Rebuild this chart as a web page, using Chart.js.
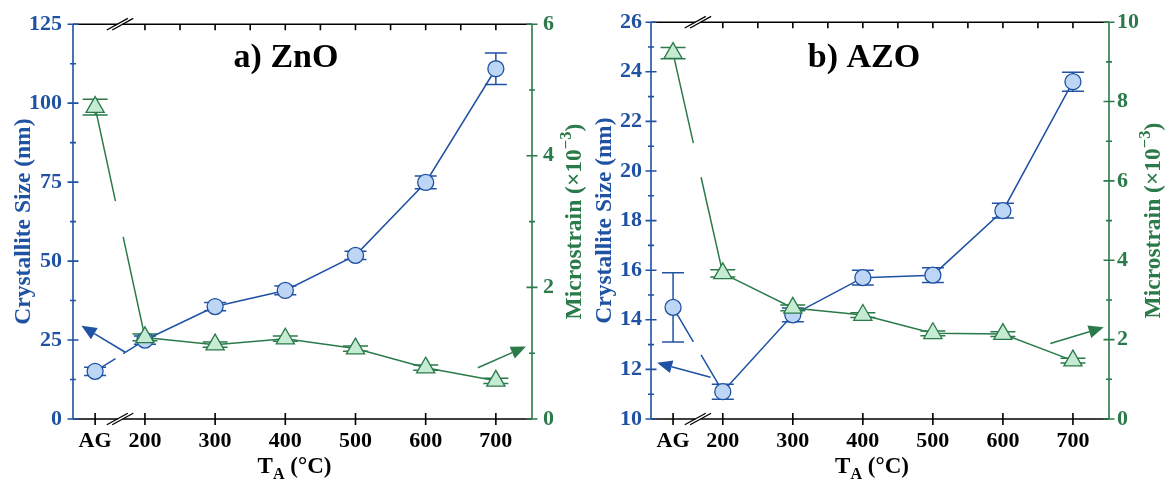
<!DOCTYPE html>
<html>
<head>
<meta charset="utf-8">
<script src="https://cdn.jsdelivr.net/npm/chart.js@4/dist/chart.umd.min.js"></script>
<style>
  html, body { margin: 0; padding: 0; background: #fff; }
  #wrap { position: relative; width: 1173px; height: 479px; overflow: hidden; }
  .pane { position: absolute; top: 0; height: 479px; }
  #paneA { left: 0; width: 588px; }
  #paneB { left: 588px; width: 585px; }
</style>
</head>
<body>
<div id="wrap">
  <div class="pane" id="paneA"><canvas id="chartA"></canvas></div>
  <div class="pane" id="paneB"><canvas id="chartB"></canvas></div>
</div>
<script>
// Annealing temperatures (AG = as-grown) on a broken temperature axis
const categories = ['AG', '200', '300', '400', '500', '600', '700'];
const AG_POS = 129;                 // where the as-grown sample sits left of the break
const xPositions = categories.map(c => c === 'AG' ? AG_POS : Number(c));
const topTickValues = [200, 250, 300, 350, 400, 450, 500, 550, 600, 650, 700];

// a) ZnO
const znoSize      = [15.1, 25.0, 35.6, 40.7, 51.8, 74.9, 110.9];
const znoSizeErr   = [1.3, 1.3, 1.3, 1.4, 1.3, 2.0, 5.0];
const znoStrain    = [4.74, 1.24, 1.13, 1.22, 1.07, 0.78, 0.58];
const znoStrainErr = [0.12, 0.05, 0.04, 0.04, 0.04, 0.04, 0.04];

// b) AZO
const azoSize      = [14.5, 11.1, 14.2, 15.7, 15.8, 18.4, 23.6];
const azoSizeErr   = [1.4, 0.3, 0.28, 0.3, 0.3, 0.3, 0.38];
const azoStrain    = [9.22, 3.67, 2.80, 2.62, 2.16, 2.14, 1.47];
const azoStrainErr = [0.14, 0.09, 0.07, 0.06, 0.06, 0.06, 0.06];

const X_MIN = 97.5, X_MAX = 751.5;
const BREAK_LO = 158, BREAK_HI = 169, BREAK_MARK = 164.5;

const FONT = "'Liberation Serif', 'Times New Roman', Times, serif";
const BLUE = '#1f52a3';
const BLUE_FILL = '#bdd6f5';
const GREEN = '#2a7a4a';
const GREEN_FILL = '#c5ebd2';
const BLACK = '#000';

// line segment crossing the axis break is interrupted there
function gapDash(ctx) {
  const xs = ctx.chart.scales.x;
  const a = xs.getPixelForValue(BREAK_LO), b = xs.getPixelForValue(BREAK_HI);
  const p0 = ctx.p0, p1 = ctx.p1;
  if (!(p0.x < a && p1.x > b)) return undefined;
  const dx = p1.x - p0.x, dy = p1.y - p0.y, L = Math.hypot(dx, dy);
  const t0 = (a - p0.x) / dx, t1 = (b - p0.x) / dx;
  return [t0 * L, (t1 - t0) * L, L + 20];
}

function pts(vals) { return vals.map((v, i) => ({ x: xPositions[i], y: v })); }

function drawRich(c, parts, x, y, size, align) {
  let total = 0;
  parts.forEach(p => {
    c.font = `bold ${size * (p.s || 1)}px ${FONT}`;
    p.w = c.measureText(p.t).width;
    total += p.w;
  });
  let cx = align === 'center' ? x - total / 2 : x;
  c.textAlign = 'left';
  c.textBaseline = 'alphabetic';
  parts.forEach(p => {
    c.font = `bold ${size * (p.s || 1)}px ${FONT}`;
    c.fillText(p.t, cx, y + (p.dy || 0) * size);
    cx += p.w;
  });
}

const errorBars = {
  id: 'errorBars',
  beforeDatasetsDraw(chart) {
    const c = chart.ctx;
    chart.data.datasets.forEach((ds, di) => {
      const meta = chart.getDatasetMeta(di);
      const ys = chart.scales[ds.yAxisID];
      c.save();
      c.strokeStyle = ds.borderColor;
      c.lineWidth = 1.5;
      ds.errors.forEach((e, i) => {
        const pt = meta.data[i];
        const v = ds.data[i].y;
        const yt = ys.getPixelForValue(v + e), yb = ys.getPixelForValue(v - e);
        c.beginPath();
        c.moveTo(pt.x, yt); c.lineTo(pt.x, yb);
        c.moveTo(pt.x - ds.capHalf, yt); c.lineTo(pt.x + ds.capHalf, yt);
        c.moveTo(pt.x - ds.capHalf, yb); c.lineTo(pt.x + ds.capHalf, yb);
        c.stroke();
      });
      c.restore();
    });
  }
};

const arrowsPlugin = {
  id: 'arrows',
  afterDatasetsDraw(chart, args, opts) {
    const c = chart.ctx;
    const xs = chart.scales.x;
    (opts.list || []).forEach(a => {
      const ys = chart.scales[a.axis];
      const x0 = xs.getPixelForValue(a.from[0]), y0 = ys.getPixelForValue(a.from[1]);
      const x1 = xs.getPixelForValue(a.to[0]), y1 = ys.getPixelForValue(a.to[1]);
      const ang = Math.atan2(y1 - y0, x1 - x0);
      const hl = 15, hw = 6.5;
      const bx = x1 - hl * Math.cos(ang), by = y1 - hl * Math.sin(ang);
      c.save();
      c.strokeStyle = a.color; c.fillStyle = a.color; c.lineWidth = 1.6;
      c.beginPath(); c.moveTo(x0, y0); c.lineTo(bx, by); c.stroke();
      c.beginPath();
      c.moveTo(x1, y1);
      c.lineTo(bx + hw * Math.sin(ang), by - hw * Math.cos(ang));
      c.lineTo(bx - hw * Math.sin(ang), by + hw * Math.cos(ang));
      c.closePath(); c.fill();
      c.restore();
    });
  }
};

const frameAndText = {
  id: 'frameAndText',
  afterDraw(chart, args, o) {
    const c = chart.ctx;
    const { left, right, top, bottom } = chart.chartArea;
    const xs = chart.scales.x, yl = chart.scales.yL, yr = chart.scales.yR;
    c.save();
    c.lineWidth = 1.6;
    c.lineCap = 'butt';
    // top and bottom axes
    c.strokeStyle = BLACK;
    c.beginPath();
    c.moveTo(left, top); c.lineTo(right, top);
    c.moveTo(left, bottom); c.lineTo(right, bottom);
    xPositions.forEach(v => {
      const x = xs.getPixelForValue(v);
      c.moveTo(x, bottom - 6); c.lineTo(x, bottom + 6);
    });
    topTickValues.forEach(v => {
      const x = xs.getPixelForValue(v);
      c.moveTo(x, top); c.lineTo(x, top + 6);
    });
    c.stroke();
    // break marks
    const bxc = xs.getPixelForValue(BREAK_MARK);
    [top, bottom].forEach(y => {
      c.fillStyle = '#fff';
      c.fillRect(bxc - 2.5, y - 1.5, 5, 3);
      c.beginPath();
      [-2.7, 2.7].forEach(off => {
        c.moveTo(bxc + off - 10.5, y + 5.8); c.lineTo(bxc + off + 10.5, y - 5.8);
      });
      c.strokeStyle = BLACK; c.lineWidth = 1.3;
      c.stroke();
    });
    // vertical axes with crossing ticks
    const vAxis = (scale, x, color) => {
      c.strokeStyle = color; c.lineWidth = 1.6;
      c.beginPath();
      c.moveTo(x, top - 0.8); c.lineTo(x, bottom + 0.8);
      const vals = scale.ticks.map(t => t.value);
      vals.forEach((v, i) => {
        const y = scale.getPixelForValue(v);
        c.moveTo(x - 5.5, y); c.lineTo(x + 5.5, y);
        if (i < vals.length - 1) {
          const ym = scale.getPixelForValue((v + vals[i + 1]) / 2);
          c.moveTo(x - 3, ym); c.lineTo(x + 3, ym);
        }
      });
      c.stroke();
    };
    vAxis(yl, left, BLUE);
    vAxis(yr, right, GREEN);

    // texts
    const cy = (top + bottom) / 2;
    c.fillStyle = BLACK;
    drawRich(c, [{ t: o.title }], left + 213, 67, 34, 'center');
    drawRich(c, [{ t: 'T' }, { t: 'A', s: 0.7, dy: 0.25 }, { t: ' (°C)' }],
      (left + right) / 2 - 8, 473, 23, 'center');

    c.fillStyle = BLUE;
    c.save();
    c.translate(o.leftTitleX, cy); c.rotate(-Math.PI / 2);
    drawRich(c, [{ t: 'Crystallite Size (nm)' }], 0, 0, 23.5, 'center');
    c.restore();

    c.fillStyle = GREEN;
    c.save();
    c.translate(o.rightTitleX, cy); c.rotate(-Math.PI / 2);
    drawRich(c, [{ t: 'Microstrain (×10' }, { t: '−3', s: 0.7, dy: -0.42 }, { t: ')' }], 0, 0, 23.5, 'center');
    c.restore();
    c.restore();
  }
};

function makeChart(id, cfg) {
  const tickFont = { family: FONT, size: 22, weight: 'bold' };
  return new Chart(document.getElementById(id), {
    type: 'line',
    data: {
      datasets: [
        {
          label: 'Microstrain', data: pts(cfg.strain), errors: cfg.strainErr, capHalf: 12.5,
          yAxisID: 'yR', order: 0,
          borderColor: GREEN, backgroundColor: GREEN_FILL,
          pointBackgroundColor: GREEN_FILL, pointBorderColor: GREEN,
          pointStyle: 'triangle', pointRadius: 10.5, pointBorderWidth: 1.3,
          borderWidth: 1.5, tension: 0, segment: { borderDash: gapDash }
        },
        {
          label: 'Crystallite size', data: pts(cfg.size), errors: cfg.sizeErr, capHalf: 11,
          yAxisID: 'yL', order: 1,
          borderColor: BLUE, backgroundColor: BLUE_FILL,
          pointBackgroundColor: BLUE_FILL, pointBorderColor: BLUE,
          pointStyle: 'circle', pointRadius: 8, pointBorderWidth: 1.3,
          borderWidth: 1.5, tension: 0, segment: { borderDash: gapDash }
        }
      ]
    },
    options: {
      responsive: true,
      maintainAspectRatio: false,
      animation: false,
      events: [],
      layout: { padding: { top: 20, left: 0, right: 0, bottom: 0 } },
      plugins: {
        legend: { display: false },
        tooltip: { enabled: false },
        arrows: { list: cfg.arrows },
        frameAndText: { title: cfg.title, leftTitleX: cfg.leftTitleX, rightTitleX: cfg.rightTitleX }
      },
      scales: {
        x: {
          type: 'linear', position: 'bottom', min: X_MIN, max: X_MAX,
          grid: { display: false, drawTicks: false, tickLength: 0 },
          border: { display: false },
          afterBuildTicks: s => { s.ticks = xPositions.map(v => ({ value: v })); },
          afterFit: s => { s.height = 60; },
          ticks: {
            autoSkip: false, maxRotation: 0, padding: 9, color: BLACK, font: tickFont,
            callback: v => categories[xPositions.indexOf(v)]
          }
        },
        yL: {
          type: 'linear', position: 'left', min: cfg.yL[0], max: cfg.yL[1],
          grid: { display: false, drawTicks: false, tickLength: 0 },
          border: { display: false },
          afterFit: s => { s.width = cfg.leftW; },
          ticks: { stepSize: cfg.yL[2], padding: cfg.padL, color: BLUE, font: tickFont }
        },
        yR: {
          type: 'linear', position: 'right', min: cfg.yR[0], max: cfg.yR[1],
          grid: { display: false, drawTicks: false, tickLength: 0 },
          border: { display: false },
          afterFit: s => { s.width = cfg.rightW; },
          ticks: { stepSize: cfg.yR[2], padding: cfg.padR, color: GREEN, font: tickFont }
        }
      }
    },
    plugins: [errorBars, arrowsPlugin, frameAndText]
  });
}

makeChart('chartA', {
  title: 'a) ZnO',
  size: znoSize, sizeErr: znoSizeErr, strain: znoStrain, strainErr: znoStrainErr,
  yL: [0, 125, 25], yR: [0, 6, 2],
  leftW: 73, rightW: 56, padL: 11, padR: 11,
  leftTitleX: 30, rightTitleX: 581,
  arrows: [
    { axis: 'yL', from: [171.4, 21.2], to: [109.6, 29.5], color: BLUE },
    { axis: 'yR', from: [674.3, 0.78], to: [742.9, 1.10], color: GREEN }
  ]
});

makeChart('chartB', {
  title: 'b) AZO',
  size: azoSize, sizeErr: azoSizeErr, strain: azoStrain, strainErr: azoStrainErr,
  yL: [10, 26, 2], yR: [0, 10, 2],
  leftW: 63, rightW: 64, padL: 9, padR: 8,
  leftTitleX: 23, rightTitleX: 572,
  arrows: [
    { axis: 'yL', from: [182.4, 11.68], to: [106.3, 12.27], color: BLUE },
    { axis: 'yR', from: [667.7, 1.90], to: [743.9, 2.31], color: GREEN }
  ]
});
</script>
</body>
</html>
